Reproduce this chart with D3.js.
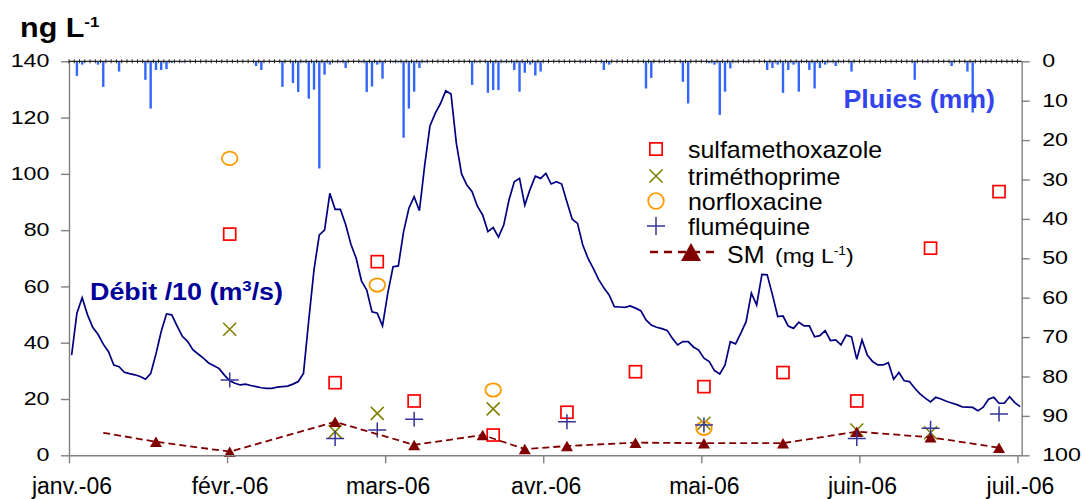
<!DOCTYPE html>
<html>
<head>
<meta charset="utf-8">
<script src="https://cdn.jsdelivr.net/npm/d3@7"></script>
<style>
  body { margin: 0; background: #fff; }
  svg { display: block; font-family: "Liberation Sans", Arial, sans-serif; }
</style>
</head>
<body>
<svg id="chart" width="1082" height="499"></svg>
<script>
// day 0 = 1 janv. 2006, one value per day
var monthLabels = ["janv.-06", "févr.-06", "mars-06", "avr.-06", "mai-06", "juin-06", "juil.-06"]
var monthTickDays = [-0.5, 29.5, 59.5, 89.5, 119.5, 149.5, 179.5]
var leftTicks = [0, 20, 40, 60, 80, 100, 120, 140]
var rightTicks = [0, 10, 20, 30, 40, 50, 60, 70, 80, 90, 100]

// Débit /10 (m3/s), daily
var debit = [
  35.6, 50.5, 56, 50, 45.5, 43, 39.5, 36.8, 32.1, 31.5,
  29.5, 29, 28.6, 28, 27, 29, 36, 44, 50.2, 49.9,
  46, 42.3, 40.5, 37.5, 36, 34.5, 32.8, 31.8, 30.8, 28.5,
  26.5, 25.6, 25, 25.3, 24.8, 24.4, 24, 23.8, 23.8, 24.2,
  24.4, 24.6, 25.3, 26.2, 29.1, 48, 66, 78.3, 80, 93.1,
  87.4, 87.4, 82, 75, 70, 62, 58.7, 51, 50.5, 46,
  57.6, 67, 67.3, 79.5, 87.8, 91.9, 86.9, 103, 117, 121.5,
  125, 129.5, 128.4, 111, 100, 96, 93.7, 88.5, 85.4, 79.5,
  80.9, 77.5, 81.8, 90.7, 97.2, 98.4, 88.9, 94.5, 99.2, 98.4,
  100.2, 96.4, 97.2, 96.4, 90, 83.9, 82.4, 74.7, 70, 66.4,
  62.5, 59.5, 57, 52.8, 52.7, 52.6, 53.1, 52.3, 51.4, 48.1,
  46.3, 45.5, 45, 44.4, 41.6, 39.2, 40.4, 40.4, 38.5, 37.4,
  34.5, 33.3, 30.1, 28.9, 32.1, 40.4, 39.6, 43.4, 47.5, 57.6,
  53.4, 64.3, 64.1, 57, 49.3, 49.5, 45.9, 45.1, 47.3, 46,
  46, 42.1, 42.5, 44.3, 40.8, 41, 39.2, 42.7, 42.1, 34.1,
  41, 35.6, 33.3, 32.1, 32.1, 32.9, 27, 29.4, 26.5, 26.2,
  23.8, 21.8, 20.3, 19, 20.6, 20, 19.2, 18.6, 18, 17.2,
  17.1, 17, 15.8, 17.1, 19.9, 20.6, 18.5, 18.5, 20.8, 18.7,
  17.3
]

// Pluies (mm)
var rainDays = [1,2,5,6,9,14,15,16,17,18,19,21,35,36,40,42,43,44,45,46,47,48,49,50,51,52,55,56,57,58,59,
  61,62,63,64,65,66,67,76,77,79,80,81,82,83,84,85,86,87,88,89,97,101,102,109,110,112,116,117,
  121,122,123,124,125,126,128,132,133,134,135,136,137,138,139,140,141,142,143,144,145,146,148,160,162,167,170,171]
var rainMm = [3.7,0.85,0.85,6.5,2.6,4.7,12.0,2.2,2.2,2.0,0.4,0.3,1.2,2.2,6.5,5.5,7.8,0.3,9.5,7.2,27.2,3.4,0.85,0.3,0.3,1.7,0.3,7.8,6.4,0.85,4.4,
  0.3,0.3,19.4,12.0,7.7,1.7,0.3,6.0,0.3,8.0,7.3,7.3,0.3,0.3,2.2,7.7,2.9,0.85,3.6,2.6,0.3,2.2,0.85,6.9,4.2,0.3,5.2,10.7,
  0.5,0.85,13.6,7.7,1.8,0.3,0.3,2.2,1.7,0.85,8.0,2.2,0.85,7.7,0.3,2.2,6.9,1.7,0.85,0.3,1.2,0.3,2.6,4.7,0.3,1.2,2.6,13.0]

// sampling campaigns (ng/L, SM in mg/L)
var sampleDays = [6, 16, 30, 50, 58, 65, 78, 80, 86, 94, 107, 120, 135, 149, 163, 176]
var sulfa  = [null, null, 78.6, 25.8, 68.8, 19.3, null, 7.2, null, 15.3, 29.7, 24.4, 29.4, 19.3, 73.6, 93.7]
var trim   = [null, null, 44.8, 8.4, 14.9, null, null, 16.5, null, null, null, 11.4, null, 9.0, 8.0, null]
var norflo = [null, null, 105.5, null, 60.5, null, null, 23.2, null, null, null, 9.6, null, null, null, null]
var flume  = [null, null, 26.8, 6.0, 9.0, 12.8, null, null, null, 11.9, null, 10.8, null, 6.0, 9.6, 14.7]
var sm     = [8.0, 4.8, 1.3, 11.9, null, 3.7, 7.2, null, 2.2, 3.3, 4.5, 4.3, 4.3, 8.4, 6.4, 2.7]

var legendNames = ["sulfamethoxazole", "triméthoprime", "norfloxacine", "fluméquine"]

var svg = d3.select("#chart")

var x = d3.scaleLinear().domain([-0.5, 180.3]).range([69, 1021.7])
var y = d3.scaleLinear().domain([0, 140]).range([455.3, 61.3])
var yRain = d3.scaleLinear().domain([0, 100]).range([61.3, 455.3])

var pts = function(vals){
  return sampleDays.map(function(d, i){ return {day: d, v: vals[i], i: i} })
    .filter(function(d){ return d.v != null })
}

// text that is a little wider than the font, as in the original
var wideText = function(parent, px, py, sx){
  return parent.append("g")
    .attr("transform", "translate(" + px + "," + py + ") scale(" + sx + ",1)")
    .append("text")
}

// marker drawers
var square = function(g, s){
  return g.append("rect").attr("x", -s/2).attr("y", -s/2).attr("width", s).attr("height", s)
    .attr("fill", "none").attr("stroke", "#ff0000").attr("stroke-width", 1.7)
}
var cross = function(g, s){
  g.append("path").attr("d", "M" + (-s) + "," + (-s) + "L" + s + "," + s + "M" + (-s) + "," + s + "L" + s + "," + (-s))
    .attr("stroke", "#808000").attr("stroke-width", 1.6).attr("fill", "none")
}
var circle = function(g, rx, ry){
  g.append("ellipse").attr("rx", rx).attr("ry", ry)
    .attr("fill", "none").attr("stroke", "#ff9900").attr("stroke-width", 1.8)
}
var plus = function(g, sx, sy){
  g.append("path").attr("d", "M" + (-sx) + ",0L" + sx + ",0M0," + (-sy) + "L0," + sy)
    .attr("stroke", "#333399").attr("stroke-width", 1.5).attr("fill", "none")
}
var triangle = function(g, w, h){
  g.append("path").attr("d", "M0," + (-h/2) + "L" + (w/2) + "," + (h/2) + "L" + (-w/2) + "," + (h/2) + "Z")
    .attr("fill", "#800000")
}

// rain bars hanging from the top axis
svg.append("g").selectAll("rect")
    .data(rainDays.map(function(d, i){ return {day: d, mm: rainMm[i]} }))
  .enter().append("rect")
    .attr("x", function(d){ return x(d.day) - 1.2 })
    .attr("y", yRain(0))
    .attr("width", 2.4)
    .attr("height", function(d){ return yRain(d.mm) - yRain(0) })
    .attr("fill", "#3366ff")

// discharge
var line = d3.line()
  .x(function(d, i){ return x(i) })
  .y(function(d){ return y(d) })

svg.append("path")
  .datum(debit)
  .attr("d", line)
  .attr("fill", "none")
  .attr("stroke", "#000080")
  .attr("stroke-width", 1.7)

// sample markers
var markerLayer = svg.append("g")
pts(sulfa).forEach(function(d){
  square(markerLayer.append("g").attr("transform", "translate(" + x(d.day) + "," + y(d.v) + ")"), 12)
})
pts(trim).forEach(function(d){
  cross(markerLayer.append("g").attr("transform", "translate(" + x(d.day) + "," + y(d.v) + ")"), 6.5)
})
pts(norflo).forEach(function(d){
  circle(markerLayer.append("g").attr("transform", "translate(" + x(d.day) + "," + y(d.v) + ")"), 7.8, 6.7)
})

var smLine = d3.line()
  .x(function(d){ return x(d.day) })
  .y(function(d){ return y(d.v) })
svg.append("path")
  .datum(pts(sm))
  .attr("d", smLine)
  .attr("fill", "none")
  .attr("stroke", "#800000")
  .attr("stroke-width", 1.8)
  .attr("stroke-dasharray", "7,4")
// first SM value has no marker in the original
pts(sm).filter(function(d, i){ return i > 0 }).forEach(function(d){
  triangle(markerLayer.append("g").attr("transform", "translate(" + x(d.day) + "," + y(d.v) + ")"), 12, 10.5)
})
pts(flume).forEach(function(d){
  plus(markerLayer.append("g").attr("transform", "translate(" + x(d.day) + "," + y(d.v) + ")"), 9, 7.5)
})

// axes
var stretch = 1.33

var leftAxis = svg.append("g")
  .attr("transform", "translate(" + x.range()[0] + ",0)")
  .call(d3.axisLeft(y).tickValues(leftTicks).tickSize(8).tickSizeOuter(0))
leftAxis.select(".domain").attr("stroke", "#808080").attr("stroke-width", 1.4)
leftAxis.selectAll(".tick line").attr("stroke", "#808080").attr("stroke-width", 1.4)
leftAxis.selectAll("text")
  .attr("x", -19.5 / stretch)
  .attr("transform", "scale(" + stretch + ",1)")
  .attr("font-size", 17.5).attr("font-family", null).attr("fill", "#000")

var rightAxis = svg.append("g")
  .attr("transform", "translate(" + x.range()[1] + ",0)")
  .call(d3.axisRight(yRain).tickValues(rightTicks).tickSize(8).tickSizeOuter(0))
rightAxis.select(".domain").attr("stroke", "#808080").attr("stroke-width", 1.4)
rightAxis.selectAll(".tick line").attr("stroke", "#808080").attr("stroke-width", 1.4)
rightAxis.selectAll("text")
  .attr("x", 20.5 / stretch)
  .attr("transform", "scale(" + stretch + ",1)")
  .attr("font-size", 17.5).attr("font-family", null).attr("fill", "#000")

var bottomAxis = svg.append("g")
  .attr("transform", "translate(0," + y(0) + ")")
  .call(d3.axisBottom(x).tickValues(monthTickDays).tickSize(8).tickSizeOuter(0)
    .tickFormat(function(d, i){ return monthLabels[i] }))
bottomAxis.select(".domain").attr("stroke", "#808080").attr("stroke-width", 1.4)
bottomAxis.selectAll(".tick line").attr("stroke", "#808080").attr("stroke-width", 1.4)
bottomAxis.selectAll("text")
  .attr("y", 39).attr("dy", 0).attr("dx", 2.5)
  .attr("font-size", 23).attr("font-family", null).attr("fill", "#000")

// top axis for rain, daily ticks
var topAxis = svg.append("g").attr("transform", "translate(0," + yRain(0) + ")")
topAxis.append("line")
  .attr("x1", x.range()[0]).attr("x2", x.range()[1])
  .attr("stroke", "#222").attr("stroke-width", 1.3)
topAxis.selectAll("line.day")
    .data(d3.range(-0.5, 180.3, 1))
  .enter().append("line")
    .attr("class", "day")
    .attr("x1", function(d){ return x(d) }).attr("x2", function(d){ return x(d) })
    .attr("y1", -2).attr("y2", 2)
    .attr("stroke", "#222").attr("stroke-width", 1)

// titles
var unit = wideText(svg, 20, 37, 1.13)
  .attr("font-size", 27).attr("font-weight", "bold").attr("fill", "#000")
unit.append("tspan").text("ng L")
unit.append("tspan").attr("font-size", 15).attr("dy", -10).text("-1")

wideText(svg, 995, 108, 1.07)
  .attr("text-anchor", "end")
  .attr("font-size", 25).attr("font-weight", "bold").attr("fill", "#3344ee")
  .text("Pluies (mm)")

var deb = wideText(svg, 90, 300, 1.12)
  .attr("font-size", 24).attr("font-weight", "bold").attr("fill", "#000099")
deb.append("tspan").text("Débit /10 (m")
deb.append("tspan").attr("font-size", 15).attr("dy", -9).text("3")
deb.append("tspan").attr("dy", 9).text("/s)")

// legend
var legendY = [149, 176, 201, 226, 252]
var lg = svg.append("g")
square(lg.append("g").attr("transform", "translate(656," + legendY[0] + ")"), 12.3)
cross(lg.append("g").attr("transform", "translate(656," + legendY[1] + ")"), 6.5)
circle(lg.append("g").attr("transform", "translate(656," + legendY[2] + ")"), 7.8, 7.8)
plus(lg.append("g").attr("transform", "translate(656," + legendY[3] + ")"), 9, 9)

legendNames.forEach(function(name, i){
  wideText(lg, 688, legendY[i] + 8.5, 1.04)
    .attr("font-size", 24).attr("fill", "#000")
    .text(name)
})

lg.append("line")
  .attr("x1", 650).attr("x2", 718)
  .attr("y1", legendY[4]).attr("y2", legendY[4])
  .attr("stroke", "#800000").attr("stroke-width", 2.5).attr("stroke-dasharray", "8,6")
triangle(lg.append("g").attr("transform", "translate(691," + legendY[4] + ")"), 20, 18)

wideText(lg, 727, legendY[4] + 11, 1.04)
  .attr("font-size", 24).attr("fill", "#000").text("SM")
var smu = wideText(lg, 775, legendY[4] + 11, 1.15)
  .attr("font-size", 20).attr("fill", "#000")
smu.append("tspan").text("(mg L")
smu.append("tspan").attr("font-size", 12).attr("dy", -8).text("-1")
smu.append("tspan").attr("dy", 8).text(")")
</script>
</body>
</html>
